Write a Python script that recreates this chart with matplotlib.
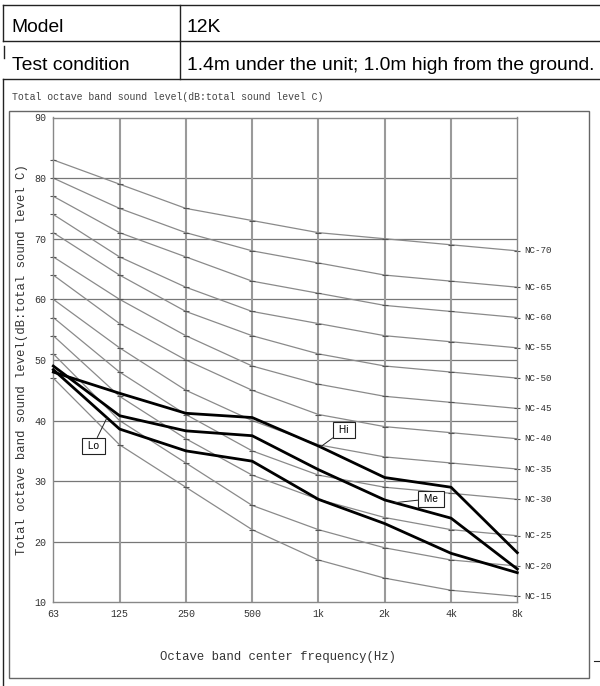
import numpy as np
import matplotlib
matplotlib.use('Agg')
import matplotlib.pyplot as plt
from matplotlib.lines import Line2D
from matplotlib.patches import Rectangle

W, H = 600, 686

# octave bands
bands = ['63', '125', '250', '500', '1k', '2k', '4k', '8k']

# NC reference curves (dB)
nc_names = ['NC-15', 'NC-20', 'NC-25', 'NC-30', 'NC-35', 'NC-40',
            'NC-45', 'NC-50', 'NC-55', 'NC-60', 'NC-65', 'NC-70']
nc_curves = [
    [47, 36, 29, 22, 17, 14, 12, 11],
    [51, 40, 33, 26, 22, 19, 17, 16],
    [54, 44, 37, 31, 27, 24, 22, 21],
    [57, 48, 41, 35, 31, 29, 28, 27],
    [60, 52, 45, 40, 36, 34, 33, 32],
    [64, 56, 50, 45, 41, 39, 38, 37],
    [67, 60, 54, 49, 46, 44, 43, 42],
    [71, 64, 58, 54, 51, 49, 48, 47],
    [74, 67, 62, 58, 56, 54, 53, 52],
    [77, 71, 67, 63, 61, 59, 58, 57],
    [80, 75, 71, 68, 66, 64, 63, 62],
    [83, 79, 75, 73, 71, 70, 69, 68],
]

# measured fan speeds
hi = [48.0, 44.5, 41.2, 40.5, 35.8, 30.6, 29.0, 18.2]
me = [49.0, 40.8, 38.3, 37.5, 31.9, 26.9, 23.9, 15.5]
lo = [48.4, 38.6, 35.0, 33.3, 27.0, 23.0, 18.1, 14.9]

yticks = [10, 20, 30, 40, 50, 60, 70, 80, 90]

MONO = 'Liberation Mono'
SANS = 'Liberation Sans'


def fx(x):
    return x / W


def fy(y):
    return 1 - y / H


def hline(fig, x0, x1, y, **kw):
    fig.add_artist(Line2D([fx(x0), fx(x1)], [fy(y), fy(y)], **kw))


def vline(fig, x, y0, y1, **kw):
    fig.add_artist(Line2D([fx(x), fx(x)], [fy(y0), fy(y1)], **kw))


fig = plt.figure(figsize=(W / 100, H / 100), dpi=100)

# table on top
tk = dict(color='#222', lw=1.0)
hline(fig, 3, 600, 5, **tk)
hline(fig, 3, 600, 40.5, **tk)
hline(fig, 3, 600, 79, **tk)
vline(fig, 3, 5, 40.5, **tk)
vline(fig, 4, 46, 58, **tk)
vline(fig, 180, 5, 79, **tk)
vline(fig, 2.7, 79, 686, **tk)
hline(fig, 594, 599, 661, color='#222', lw=0.8)

fs_tab = 13.9
fig.text(fx(11.7), fy(31.7), 'Model', fontsize=fs_tab, family=SANS, va='baseline')
fig.text(fx(187), fy(31.7), '12K', fontsize=fs_tab, family=SANS, va='baseline')
fig.text(fx(11.7), fy(70), 'Test condition', fontsize=fs_tab, family=SANS, va='baseline')
fig.text(fx(187), fy(70), '1.4m under the unit; 1.0m high from the ground.',
         fontsize=fs_tab, family=SANS, va='baseline')

# chart image frame and title
fig.add_artist(Rectangle((fx(8.7), fy(677.7)), fx(589 - 8.7), (677.7 - 110.7) / H,
                         fill=False, ec='#666', lw=1.0))
fig.text(fx(11.7), fy(96.7), 'Total octave band sound level(dB:total sound level C)',
         fontsize=7.1, family=MONO, color='#444', va='center')

# plot area
ax_l, ax_r, ax_t, ax_b = 53.3, 517.3, 117.5, 602.4
ax = fig.add_axes([fx(ax_l), fy(ax_b), fx(ax_r - ax_l), (ax_b - ax_t) / H])
x = np.arange(len(bands))

ax.set_xlim(0, len(bands) - 1)
ax.set_ylim(10, 90)
for s in ax.spines.values():
    s.set_color('#888')
    s.set_linewidth(1.0)

for yv in yticks[1:-1]:
    ax.axhline(yv, color='#777', lw=0.9, zorder=1)
for xv in x[1:-1]:
    ax.axvline(xv, color='#9a9a9a', lw=1.5, zorder=1)

ax.set_xticks(x)
ax.set_xticklabels(bands)
ax.set_yticks(yticks)
ax.tick_params(length=0, labelsize=7.2, labelcolor='#333', pad=5.0)
for lab in ax.get_xticklabels() + ax.get_yticklabels():
    lab.set_family(MONO)

for name, vals in zip(nc_names, nc_curves):
    ax.plot(x, vals, color='#8a8a8a', lw=0.9, zorder=2, clip_on=False)
    ax.plot(x, vals, ls='none', marker='_', ms=5, mew=0.8, color='#555', zorder=2,
            clip_on=False)
    ax.text(x[-1] + 0.11, vals[-1], name, fontsize=6.7, family=MONO, color='#333',
            va='center', ha='left', clip_on=False)

for vals in (hi, me, lo):
    ax.plot(x, vals, color='black', lw=2.0, zorder=4, clip_on=False)

box = dict(boxstyle='square,pad=0.3', fc='white', ec='#222', lw=0.8)
arr = dict(arrowstyle='-', color='#222', lw=0.7, shrinkA=0, shrinkB=0)
for txt, series, xa, xt, yt in ((' Lo ', lo, 0.81, 0.60, 35.8),
                                (' Hi ', hi, 4.03, 4.385, 38.5),
                                (' Me ', me, 5.15, 5.70, 27.1)):
    ya = np.interp(xa, x, series)
    ax.annotate(txt, xy=(xa, ya), xytext=(xt, yt), fontsize=7.3, family=SANS,
                ha='center', va='center', bbox=box, arrowprops=arr, zorder=5)

fig.text(fx(22), fy(360), 'Total octave band sound level(dB:total sound level C)',
         fontsize=8.8, family=MONO, color='#333', rotation=90, ha='center', va='center')
fig.text(fx(278), fy(657), 'Octave band center frequency(Hz)',
         fontsize=8.8, family=MONO, color='#333', ha='center', va='center')

fig.savefig('out.png', dpi=100)
